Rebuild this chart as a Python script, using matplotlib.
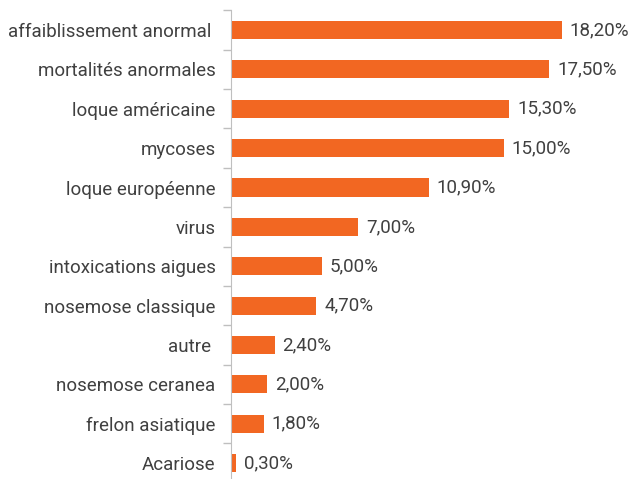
import matplotlib
matplotlib.use("Agg")
import matplotlib.pyplot as plt
import numpy as np

categories = ["affaiblissement anormal ", "mortalités anormales", "loque américaine",
              "mycoses", "loque européenne", "virus", "intoxications aigues",
              "nosemose classique", "autre ", "nosemose ceranea",
              "frelon asiatique", "Acariose"]
values = [18.2, 17.5, 15.3, 15.0, 10.9, 7.0, 5.0, 4.7, 2.4, 2.0, 1.8, 0.3]
value_labels = ["18,20%", "17,50%", "15,30%", "15,00%", "10,90%", "7,00%",
                "5,00%", "4,70%", "2,40%", "2,00%", "1,80%", "0,30%"]

bar_color = "#F26722"
text_color = "#404040"
plt.rcParams["font.family"] = ["Roboto", "DejaVu Sans"]

fig = plt.figure(figsize=(6.35, 4.79), dpi=100)
ax = fig.add_axes([231 / 635, -0.0077, 1 - 231 / 635, 0.986])

y = np.arange(len(categories))
ax.barh(y, values, height=0.46, color=bar_color)
for yi, v, lab in zip(y, values, value_labels):
    ax.text(v + 0.42, yi, lab, va="center", ha="left", fontsize=13.5,
            color=text_color)

ax.set_xlim(0, 404 / 18.19)
ax.set_ylim(len(categories) - 0.5, -0.5)
ax.set_yticks(y)
ax.set_yticklabels(categories, fontsize=13.5, color=text_color)
ax.set_yticks(np.arange(-0.5, len(categories) + 0.5, 1), minor=True)
ax.tick_params(axis="y", which="major", length=0, pad=11)
ax.tick_params(axis="y", which="minor", length=6, color="#BFBFBF", width=1)
ax.set_xticks([])
for s in ["top", "right", "bottom"]:
    ax.spines[s].set_visible(False)
ax.spines["left"].set_color("#BFBFBF")

fig.savefig("out.png", dpi=100)
